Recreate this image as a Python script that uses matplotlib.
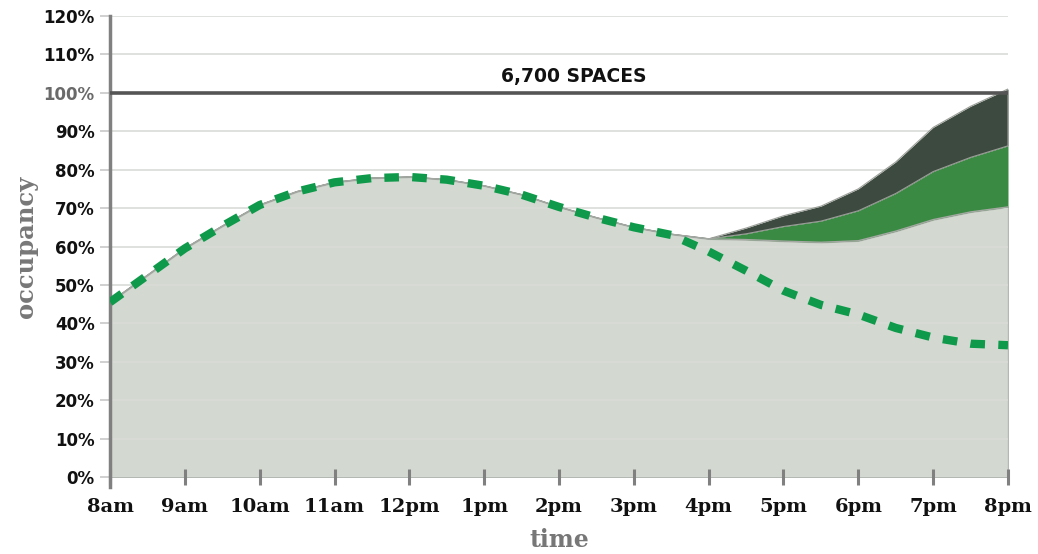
import matplotlib
matplotlib.use("Agg")
import matplotlib.pyplot as plt
import numpy as np

# ---- data ----
hours = [8.0, 8.5, 9.0, 9.5, 10.0, 10.5, 11.0, 11.5, 12.0, 12.5, 13.0, 13.5, 14.0,
         14.5, 15.0, 15.5, 16.0, 16.5, 17.0, 17.5, 18.0, 18.5, 19.0, 19.5, 20.0]
# dashed line: demand without new development
baseline = [45.5, 52.5, 59.5, 65.3, 70.8, 74.3, 76.7, 77.8, 78.1, 77.4, 75.8, 73.5, 70.3,
            67.5, 65.0, 63.0, 58.7, 53.7, 48.5, 44.8, 42.3, 38.8, 36.3, 34.7, 34.3]
# light area: existing occupancy
existing = [45.5, 52.5, 59.5, 65.3, 70.8, 74.3, 76.7, 77.8, 78.1, 77.4, 75.8, 73.5, 70.3,
            67.5, 65.0, 63.2, 62.0, 61.8, 61.4, 61.1, 61.5, 64.0, 67.0, 69.0, 70.3]
# green band top
green_top = [45.5, 52.5, 59.5, 65.3, 70.8, 74.3, 76.7, 77.8, 78.1, 77.4, 75.8, 73.5, 70.3,
             67.5, 65.0, 63.2, 62.0, 63.3, 65.2, 66.6, 69.3, 73.8, 79.5, 83.2, 86.2]
# dark band top
dark_top = [45.5, 52.5, 59.5, 65.3, 70.8, 74.3, 76.7, 77.8, 78.1, 77.4, 75.8, 73.5, 70.3,
            67.5, 65.0, 63.2, 62.0, 64.8, 68.0, 70.5, 75.0, 82.0, 91.0, 96.5, 101.0]

tick_hours = list(range(8, 21))
tick_labels = ["8am", "9am", "10am", "11am", "12pm", "1pm", "2pm", "3pm",
               "4pm", "5pm", "6pm", "7pm", "8pm"]
y_ticks = list(range(0, 121, 10))
capacity = 100
capacity_label = "6,700 SPACES"

# ---- figure ----
fig = plt.figure(figsize=(10.38, 5.54), dpi=100)
ax = fig.add_axes([110/1038, 77/554, 898/1038, 461/554])
ax.set_xlim(8, 20)
ax.set_ylim(0, 120)

x = np.array(hours)
# bands
ax.fill_between(x, green_top, dark_top, color="#3d4a3f", lw=0, zorder=2)
ax.fill_between(x, existing, green_top, color="#3a8a43", lw=0, zorder=2)
ax.fill_between(x, 0, existing, facecolor="#d3d9d0", edgecolor="#b4b8b2", lw=1.0, zorder=1)
ax.fill_between(x, green_top, dark_top, facecolor="none", edgecolor="#9a9e98", lw=0.8, zorder=2.1)
ax.plot(x, existing, color="#a4a8a2", lw=1.0, zorder=3)

# grid
for v in y_ticks:
    ax.axhline(v, color="#d8dbd7", lw=1.2, zorder=1.5)

# capacity line
ax.axhline(capacity, color="#555555", lw=2.6, zorder=4)
ax.text(14.2, capacity + 1.8, capacity_label, ha="center", va="bottom",
        fontsize=13.5, fontweight="bold", family="DejaVu Sans", color="#111111")

# dashed line
ax.plot(x, baseline, color="#0e9a4a", lw=6, dashes=(1.75, 1.6),
        solid_capstyle="butt", dash_capstyle="butt", zorder=5)

# spines
for s in ["top", "right", "bottom"]:
    ax.spines[s].set_visible(False)
ax.spines["left"].set_color("#808080")
ax.spines["left"].set_linewidth(2.5)
ax.spines["left"].set_bounds(-2.5, 120)

# ticks
ax.set_xticks(tick_hours)
ax.set_xticklabels(tick_labels, fontsize=14, fontweight="bold", family="DejaVu Serif",
                   color="#111111")
ax.tick_params(axis="x", direction="inout", length=12, width=2.2, color="#808080", pad=9)
ax.set_yticks(y_ticks)
ax.set_yticklabels([f"{v}%" for v in y_ticks], fontsize=12, fontweight="bold",
                   family="DejaVu Sans", color="#111111")
for lab, v in zip(ax.get_yticklabels(), y_ticks):
    if v == capacity:
        lab.set_color("#6a6a6a")
ax.tick_params(axis="y", direction="out", length=7, width=1.2, color="#c8c8c8", pad=4)

ax.set_xlabel("time", fontsize=17, fontweight="bold", family="DejaVu Serif",
              color="#777777", labelpad=9)
ax.set_ylabel("occupancy", fontsize=17.5, fontweight="bold", family="DejaVu Serif",
              color="#777777", labelpad=4)

fig.savefig("out.png", dpi=100)
